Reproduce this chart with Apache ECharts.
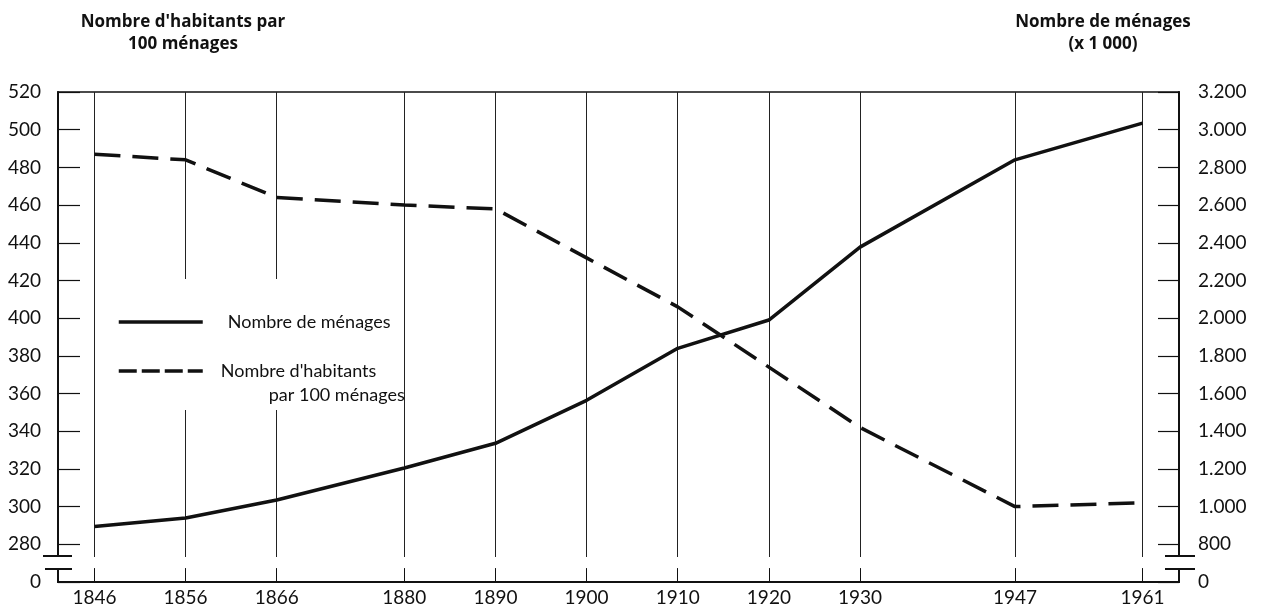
<!DOCTYPE html>
<html><head><meta charset="utf-8">
<script src="https://cdn.jsdelivr.net/npm/echarts@6/dist/echarts.min.js"></script>
<style>html,body{margin:0;padding:0;background:#fff}#c{width:1263px;height:610px}</style>
</head><body><div id="c"></div>
<script>
const years = [1846, 1856, 1866, 1880, 1890, 1900, 1910, 1920, 1930, 1947, 1961];
const habitantsPer100 = [487, 484, 464, 460, 458, 432, 406, 374, 342, 300, 302];
const menagesMilliers = [895, 940, 1035, 1205, 1336, 1564, 1840, 1990, 2377, 2840, 3035];
const seriesNames = ['Nombre de ménages', "Nombre d'habitants par 100 ménages"];
const leftTitle = "Nombre d'habitants par\n100 ménages";
const rightTitle = "Nombre de ménages\n(x 1 000)";
const leftRange = [260, 520, 20];
const rightRange = [600, 3200, 200];
const breakBand = [266.9, 273.8];

const FONT = 'Lato';
const TITLE_FONT = 'Open Sans';
const INK = '#111';
const chart = echarts.init(document.getElementById('c'), null, {renderer: 'canvas'});

function dotThousands(v) {
  const s = String(v);
  return s.length > 3 ? s.slice(0, s.length - 3) + '.' + s.slice(-3) : s;
}

const option = {
  backgroundColor: '#fff',
  animation: false,
  title: [
    {text: leftTitle, left: 178, top: 6, textAlign: 'center',
     textStyle: {fontFamily: TITLE_FONT, fontSize: 17, fontWeight: 'bold', color: INK, lineHeight: 22}},
    {text: rightTitle, left: 1098, top: 6, textAlign: 'center',
     textStyle: {fontFamily: TITLE_FONT, fontSize: 17, fontWeight: 'bold', color: INK, lineHeight: 22}}
  ],
  grid: {left: 58, right: 84, top: 92, bottom: 28, show: true, borderColor: INK, borderWidth: 1.5},
  legend: {
    orient: 'vertical', left: 117, top: 309, padding: 0,
    itemWidth: 84, itemHeight: 14, itemGap: 0,
    itemStyle: {opacity: 0, borderWidth: 0},
    lineStyle: {width: 3.5},
    textStyle: {fontFamily: FONT, fontSize: 18, color: INK, lineHeight: 26, padding: [0, 0, 0, 20],
      rich: {ind: {width: 48}}},
    formatter: function (name) {
      if (name === seriesNames[1]) return "Nombre d'habitants\n{ind| }par 100 ménages";
      return name;
    },
    data: [
      {name: seriesNames[0]},
      {name: seriesNames[1], lineStyle: {type: [18, 5], width: 3.5},
       textStyle: {padding: [24, 0, 0, 13], lineHeight: 24}}
    ]
  },
  xAxis: {
    type: 'value', min: 1842, max: 1965,
    axisLine: {show: true, lineStyle: {color: INK, width: 2}},
    axisTick: {show: true, inside: true, length: 13, customValues: years, lineStyle: {color: INK, width: 1}},
    axisLabel: {customValues: years, color: INK, fontFamily: FONT, fontSize: 19, margin: 6,
      formatter: v => String(v)},
    splitLine: {show: true, lineStyle: {color: '#222', width: 1}}
  },
  yAxis: [
    {
      type: 'value', position: 'left', min: leftRange[0], max: leftRange[1], interval: leftRange[2],
      axisLine: {show: true, lineStyle: {color: INK, width: 2}},
      axisTick: {show: true, inside: true, length: 22, lineStyle: {color: INK, width: 1.2}},
      axisLabel: {color: INK, fontFamily: FONT, fontSize: 19, margin: 17,
        formatter: v => v === leftRange[0] ? '0' : String(v)},
      splitLine: {show: false}
    },
    {
      type: 'value', position: 'right', min: rightRange[0], max: rightRange[1], interval: rightRange[2],
      axisLine: {show: true, lineStyle: {color: INK, width: 2}},
      axisTick: {show: true, inside: true, length: 21, lineStyle: {color: INK, width: 1.2}},
      axisLabel: {color: INK, fontFamily: FONT, fontSize: 19, margin: 19,
        formatter: v => v === rightRange[0] ? '0' : dotThousands(v)},
      splitLine: {show: false}
    }
  ],
  series: [
    {
      name: seriesNames[0], type: 'line', yAxisIndex: 1, symbol: 'none',
      data: years.map((y, i) => [y, menagesMilliers[i]]),
      lineStyle: {color: INK, width: 3.5, type: 'solid'}, itemStyle: {color: INK}, z: 5
    },
    {
      name: seriesNames[1], type: 'line', yAxisIndex: 0, symbol: 'none',
      data: years.map((y, i) => [y, habitantsPer100[i]]),
      lineStyle: {color: INK, width: 3.5, type: [26, 12]}, itemStyle: {color: INK}, z: 5
    }
  ]
};
chart.setOption(option);

const yA = chart.convertToPixel({yAxisIndex: 0}, breakBand[1]);
const yB = chart.convertToPixel({yAxisIndex: 0}, breakBand[0]);
const xL = chart.convertToPixel({xAxisIndex: 0}, 1842);
const xR = chart.convertToPixel({xAxisIndex: 0}, 1965);
const x1856 = chart.convertToPixel({xAxisIndex: 0}, 1856);
const x1866 = chart.convertToPixel({xAxisIndex: 0}, 1866);
const mark = (x1, x2, y) => ({type: 'line', z: 101, silent: true,
  shape: {x1: x1, y1: y, x2: x2, y2: y}, style: {stroke: INK, lineWidth: 2}});
chart.setOption({
  graphic: [
    {type: 'rect', z: 1, silent: true,
     shape: {x: x1856 - 4, y: 279, width: x1866 - x1856 + 8, height: 131}, style: {fill: '#fff'}},
    {type: 'rect', z: 100, silent: true,
     shape: {x: xL - 4, y: yA + 1, width: xR - xL + 8, height: yB - yA - 2}, style: {fill: '#fff'}},
    mark(xL - 15, xL + 14, yA), mark(xL - 13, xL + 14, yB),
    mark(xR - 14, xR + 16, yA), mark(xR - 14, xR + 16, yB)
  ]
});
</script></body></html>
